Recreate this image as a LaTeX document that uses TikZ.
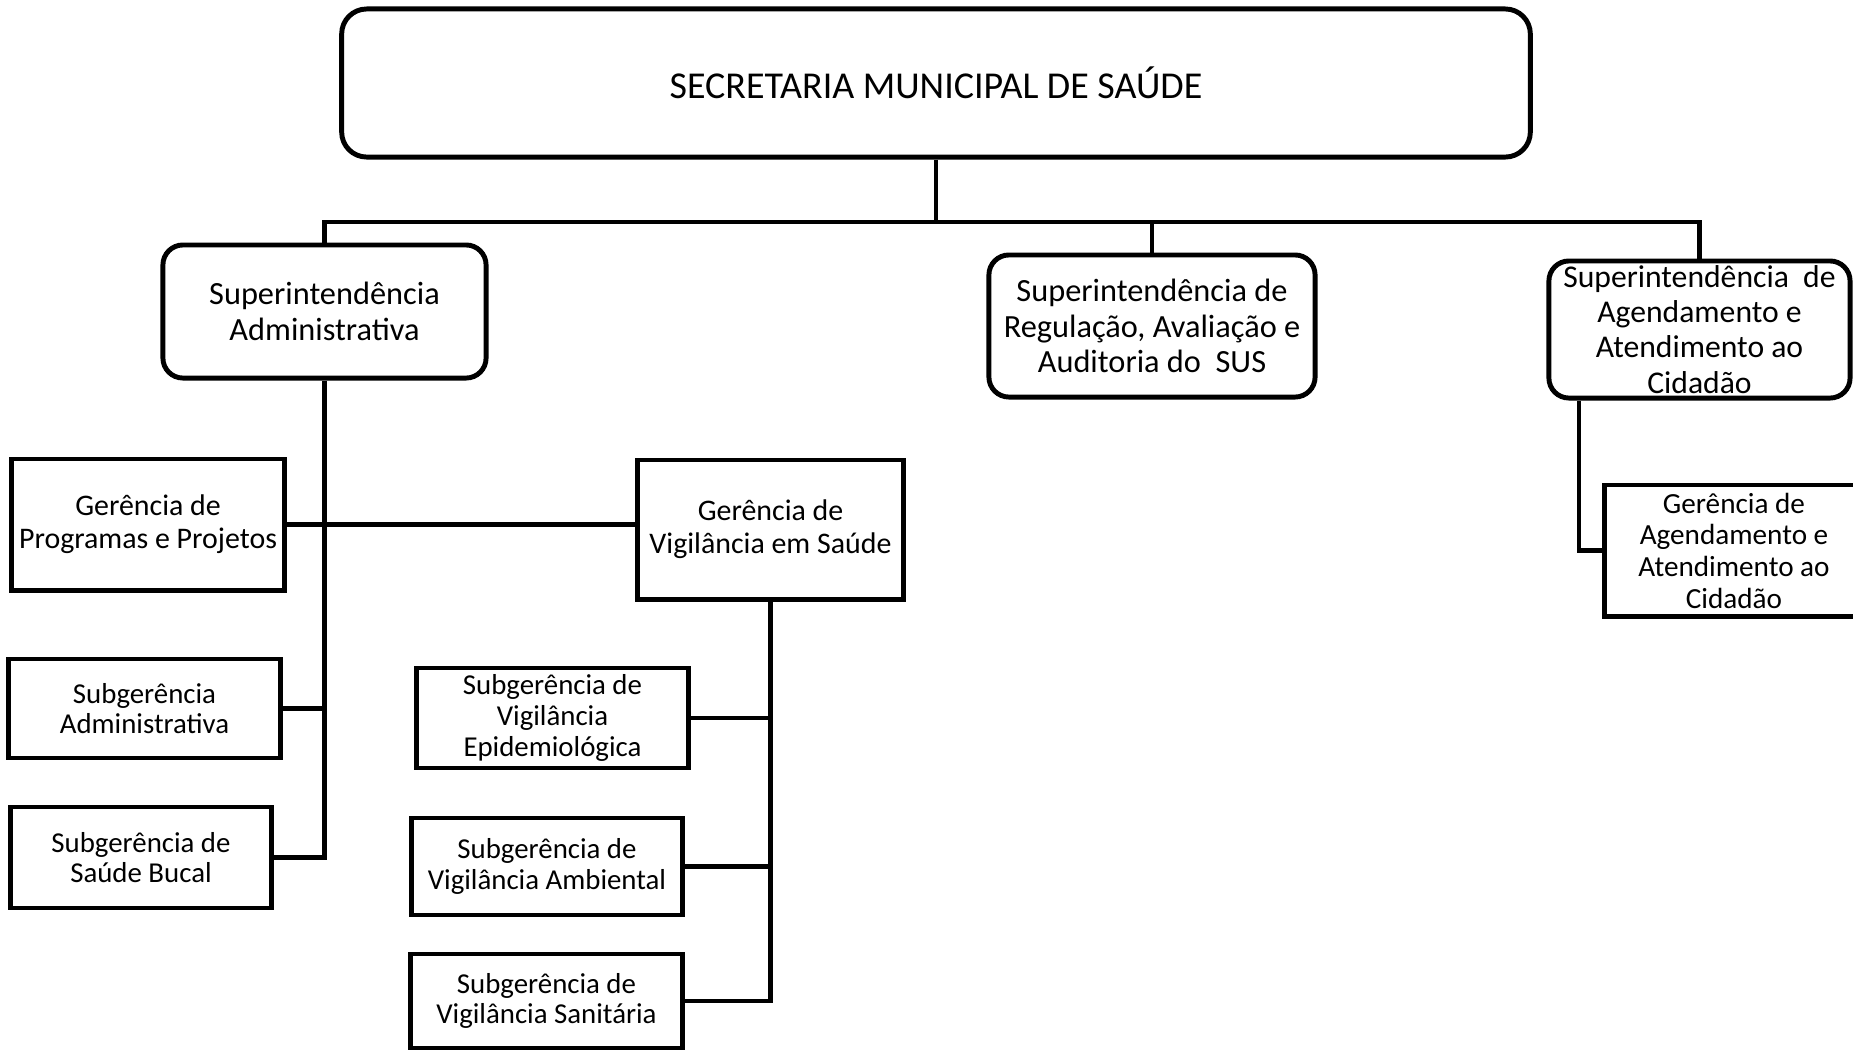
\documentclass[tikz,border=0pt]{standalone}
\usepackage{fontspec}
\setmainfont{Carlito}
\begin{document}
\begin{tikzpicture}[x=0.01cm,y=-0.01cm,
  box/.style={draw,line width=1.4pt,align=center,inner sep=0pt},
  sup/.style={box,rounded corners=0.2cm,font=\fontsize{9.2}{10.1}\selectfont},
  ger/.style={box,font=\fontsize{8.5}{9.4}\selectfont},
  sub/.style={box,font=\fontsize{8.2}{8.7}\selectfont},
  link/.style={line width=1.15pt}]
  \useasboundingbox (0,0) rectangle (1853,1051);
  \node[box,rounded corners=0.25cm,minimum width=11.88cm,minimum height=1.48cm,font=\fontsize{10.8}{12}\selectfont] (sms) at (936,83) {SECRETARIA MUNICIPAL DE SAÚDE};
  \node[sup,minimum width=3.23cm,minimum height=1.33cm] (supadm) at (324.5,311.5) {Superintendência\\Administrativa};
  \node[sup,minimum width=3.26cm,minimum height=1.42cm] (supreg) at (1152,326) {Superintendência de\\Regulação, Avaliação e\\Auditoria do~ SUS};
  \node[sup,minimum width=3.01cm,minimum height=1.37cm,font=\fontsize{9}{10}\selectfont] (supagd) at (1699.5,329.5) {Superintendência~ de\\Agendamento e\\Atendimento ao\\Cidadão};
  \node[ger,minimum width=2.72cm,minimum height=1.31cm] (gerprog) at (148,524.5) {Gerência de\\Programas e Projetos};
  \node[ger,minimum width=2.65cm,minimum height=1.39cm] (gervig) at (770.5,529.5) {Gerência de\\Vigilância em Saúde};
  \node[ger,minimum width=2.58cm,minimum height=1.31cm,font=\fontsize{8.3}{9}\selectfont] (geragd) at (1734,550.5) {Gerência de\\Agendamento e\\Atendimento ao\\Cidadão};
  \node[sub,minimum width=2.71cm,minimum height=0.99cm] (subadm) at (144.5,708.5) {Subgerência\\Administrativa};
  \node[sub,minimum width=2.60cm,minimum height=1.01cm] (subbuc) at (141,857.5) {Subgerência de\\Saúde Bucal};
  \node[sub,minimum width=2.71cm,minimum height=1.00cm] (subepi) at (552.5,718) {Subgerência de\\Vigilância\\Epidemiológica};
  \node[sub,minimum width=2.70cm,minimum height=0.97cm] (subamb) at (547,866.5) {Subgerência de\\Vigilância Ambiental};
  \node[sub,minimum width=2.71cm,minimum height=0.94cm] (subsan) at (546.5,1001) {Subgerência de\\Vigilância Sanitária};
  \coordinate (bus) at (936,222);
  \draw[link] (sms.south) -- (sms.south |- bus);
  \draw[link] (supadm.north) -- (supadm.north |- bus) -- (supagd.north |- bus) -- (supagd.north);
  \draw[link] (supreg.north) -- (supreg.north |- bus);
  \draw[link] (supadm.south) |- (subbuc.east);
  \draw[link] (gerprog.east) -- (gerprog.east -| gervig.west);
  \draw[link] (subadm.east) -- (subadm.east -| supadm.south);
  \draw[link] (gervig.south) |- (subsan.east);
  \draw[link] (subepi.east) -- (subepi.east -| gervig.south);
  \draw[link] (subamb.east) -- (subamb.east -| gervig.south);
  \draw[link] ([xshift=-1.2cm]supagd.south) |- (geragd.west);
\end{tikzpicture}
\end{document}
